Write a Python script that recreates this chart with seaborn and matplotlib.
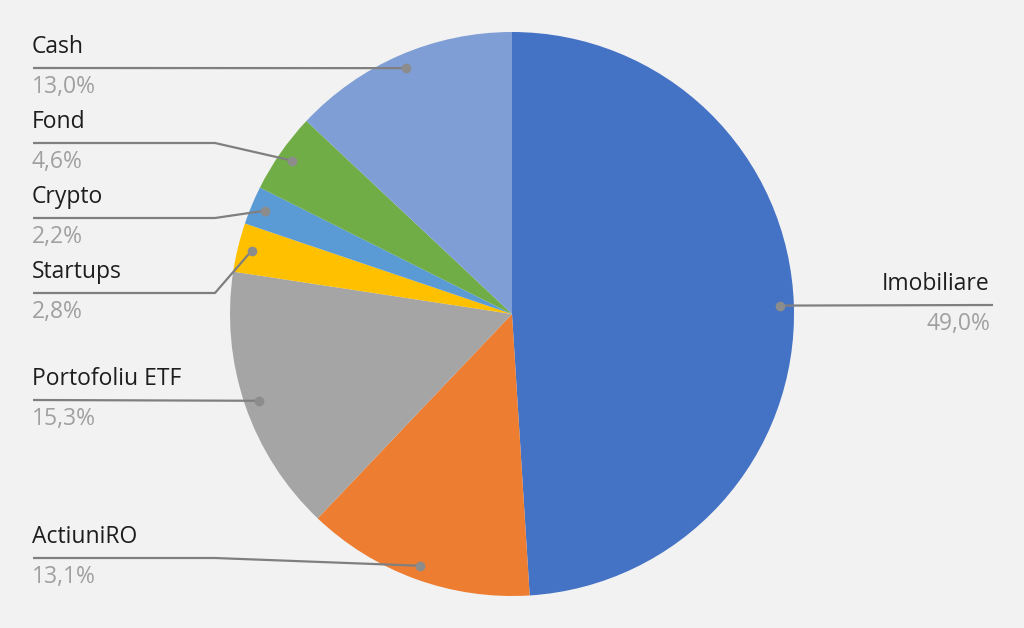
import matplotlib
matplotlib.use("Agg")
import matplotlib.pyplot as plt
import seaborn as sns
import numpy as np

categories = ["Imobiliare", "ActiuniRO", "Portofoliu ETF", "Startups", "Crypto", "Fond", "Cash"]
values = [49.0, 13.1, 15.3, 2.8, 2.2, 4.6, 13.0]
pct_labels = ["49,0%", "13,1%", "15,3%", "2,8%", "2,2%", "4,6%", "13,0%"]
colors = ["#4472C4", "#ED7D31", "#A5A5A5", "#FFC000", "#5B9BD5", "#70AD47", "#7F9ED6"]

sns.set_theme(style="white")
plt.rcParams['font.family'] = ['Open Sans', 'DejaVu Sans']

W, H = 1024, 628
fig = plt.figure(figsize=(W / 100, H / 100), dpi=100, facecolor="#F2F2F2")
ax = fig.add_axes([0, 0, 1, 1])
ax.set_facecolor("#F2F2F2")

cx, cy, R = 512, H - 314, 282
wedges, _ = ax.pie(values, colors=colors, startangle=90, counterclock=False,
                   center=(cx, cy), radius=R, frame=True,
                   wedgeprops=dict(linewidth=0))
ax.set_xlim(0, W)
ax.set_ylim(0, H)
ax.set_aspect("equal")
ax.axis("off")

# layout: label line y (pixel from top), knee x
layout = {
    "Imobiliare": (305, None),
    "ActiuniRO": (558, 215),
    "Portofoliu ETF": (400, None),
    "Startups": (293, 215),
    "Crypto": (218, 215),
    "Fond": (143, 215),
    "Cash": (68, None),
}

line_col = "#7F7F7F"
fs = 16.5
for w, cat, pct in zip(wedges, categories, pct_labels):
    ang = np.deg2rad((w.theta1 + w.theta2) / 2)
    dx = cx + 0.95 * R * np.cos(ang)
    dy = cy + 0.95 * R * np.sin(ang)
    ly_pix, knee = layout[cat]
    ly = H - ly_pix
    if cat == "Imobiliare":
        xs = [dx, 993]
        ys = [dy, ly]
        ha, tx = "right", 990
    else:
        if knee is None:
            xs = [33, dx]
            ys = [ly, dy]
        else:
            xs = [33, knee, dx]
            ys = [ly, ly, dy]
        ha, tx = "left", 32
    ax.plot(xs, ys, color=line_col, lw=1.6, solid_capstyle="butt")
    ax.text(tx, ly + 15, cat, ha=ha, va="baseline", fontsize=fs, color="#1E1E1E")
    ax.text(tx, ly - 25, pct, ha=ha, va="baseline", fontsize=fs, color="#A0A0A0")
    ax.plot([dx], [dy], "o", color="#8C8C8C", markersize=7, markeredgewidth=0)

fig.savefig("out.png", dpi=100, facecolor=fig.get_facecolor())
